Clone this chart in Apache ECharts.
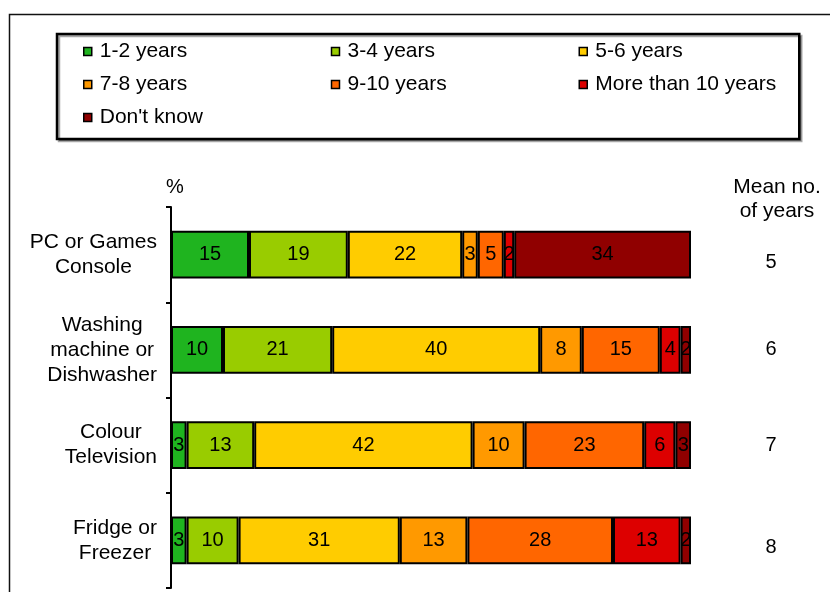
<!DOCTYPE html>
<html>
<head>
<meta charset="utf-8">
<script src="https://cdn.jsdelivr.net/npm/echarts@6/dist/echarts.min.js"></script>
<style>
  html, body { margin: 0; padding: 0; background: #fff; }
  #chart { width: 830px; height: 592px; }
</style>
</head>
<body>
<div id="chart"></div>
<script>
// Expected lifetime of household appliances (% of respondents)
const appliances = [
  'PC or Games\nConsole',
  'Washing\nmachine or\nDishwasher',
  'Colour\nTelevision',
  'Fridge or\nFreezer'
];
const meanYears = ['5', '6', '7', '8'];

const years1to2  = [15, 10, 3, 3];
const years3to4  = [19, 21, 13, 10];
const years5to6  = [22, 40, 42, 31];
const years7to8  = [3, 8, 10, 13];
const years9to10 = [5, 15, 23, 28];
const over10     = [2, 4, 6, 13];
const dontKnow   = [34, 2, 3, 2];

const bandNames = ['1-2 years', '3-4 years', '5-6 years', '7-8 years', '9-10 years', 'More than 10 years', "Don't know"];
const bandValues = [years1to2, years3to4, years5to6, years7to8, years9to10, over10, dontKnow];
const bandColors = ['#1FB41F', '#99CC00', '#FFCC00', '#FF9900', '#FF6600', '#DD0000', '#900000'];

const FONT = "'Liberation Sans', Arial, sans-serif";

const chart = echarts.init(document.getElementById('chart'), null, { renderer: 'canvas' });

// third legend column uses a narrower text box so the frame closes tightly
const lastColumn = ['5-6 years', 'More than 10 years'];
// the first and last mean figures sit a little lower than the bar centre
const lowered = [true, false, false, true];

const option = {
  animation: false,
  backgroundColor: '#fff',
  textStyle: { fontFamily: FONT },
  graphic: [{
    type: 'rect',
    left: 7, top: 12,
    shape: { width: 900, height: 700 },
    style: { fill: 'none', stroke: '#111', lineWidth: 1.5 },
    silent: true,
    z: -10
  }],
  legend: {
    left: 57,
    top: 34,
    width: 700,
    padding: [6, 22, 10, 26],
    itemGap: 10,
    itemWidth: 8,
    itemHeight: 8,
    icon: 'rect',
    borderColor: '#000',
    borderWidth: 2.5,
    backgroundColor: '#fff',
    shadowColor: 'rgba(0,0,0,0.35)',
    shadowOffsetX: 2,
    shadowOffsetY: 2,
    shadowBlur: 0,
    selectedMode: false,
    itemStyle: { borderColor: '#000', borderWidth: 1.5 },
    textStyle: {
      fontFamily: FONT, fontSize: 21, color: '#000',
      width: 221, lineHeight: 23, padding: [0, 0, 0, 3]
    },
    data: bandNames.map(n => lastColumn.includes(n)
      ? { name: n, textStyle: { width: 182 } }
      : { name: n })
  },
  grid: { left: 171, right: 139, top: 207, bottom: 4 },
  xAxis: {
    type: 'value', min: 0, max: 100, show: false
  },
  yAxis: [{
    type: 'category',
    inverse: true,
    data: appliances,
    name: '%',
    nameLocation: 'start',
    nameGap: 20,
    nameTextStyle: { fontFamily: FONT, fontSize: 20, color: '#000', align: 'center', verticalAlign: 'middle', padding: [0, 0, 0, 8] },
    axisLine: { show: true, lineStyle: { color: '#000', width: 2 } },
    axisTick: { show: true, length: 5, lineStyle: { color: '#000', width: 2 } },
    axisLabel: {
      margin: 14,
      align: 'right',
      formatter: v => v.split('\n').map(s => '{c|' + s + '}').join('\n'),
      rich: {
        c: { align: 'center', fontFamily: FONT, fontSize: 21, lineHeight: 25, color: '#000' }
      }
    },
    splitLine: { show: false }
  }, {
    type: 'category',
    inverse: true,
    position: 'right',
    data: meanYears,
    name: 'Mean no.\nof years',
    nameLocation: 'start',
    nameGap: 8,
    nameTextStyle: { fontFamily: FONT, fontSize: 21, lineHeight: 24, color: '#000', align: 'center', verticalAlign: 'middle', padding: [0, 0, 0, 172] },
    axisLine: { show: false },
    axisTick: { show: false },
    axisLabel: {
      margin: 80, align: 'center',
      formatter: (v, i) => (lowered[i] ? '{low|' : '{m|') + v + '}',
      rich: {
        m: { fontFamily: FONT, fontSize: 20, color: '#000' },
        low: { fontFamily: FONT, fontSize: 20, color: '#000', padding: [15, 0, 0, 0] }
      }
    },
    splitLine: { show: false }
  }],
  series: bandNames.map((name, i) => ({
    name,
    type: 'bar',
    stack: 'total',
    yAxisIndex: 0,
    barWidth: '50%',
    data: bandValues[i],
    itemStyle: { color: bandColors[i], borderColor: '#000', borderWidth: 2 },
    label: {
      show: true,
      position: 'inside',
      color: '#000',
      fontFamily: FONT,
      fontSize: 20
    }
  }))
};

chart.setOption(option);
</script>
</body>
</html>
